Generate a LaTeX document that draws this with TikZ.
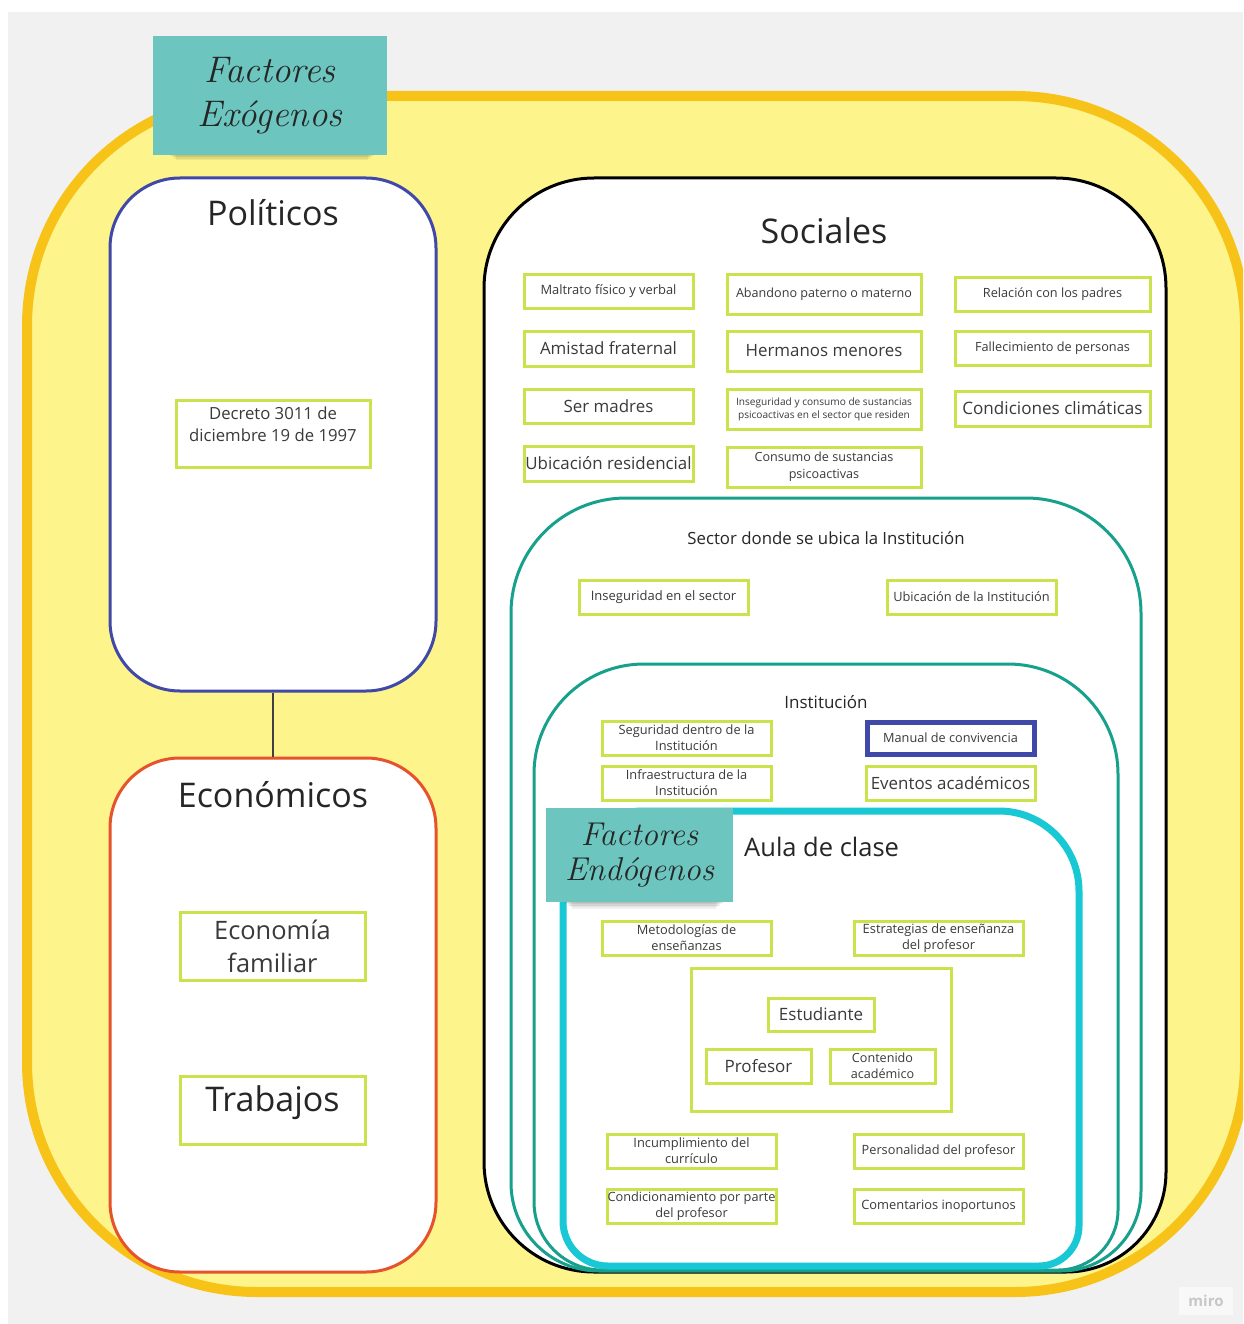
\documentclass[tikz,border=0pt]{standalone}
\usepackage{fontspec}
\newfontfamily\osans{Open Sans}
\usetikzlibrary{calc}
\definecolor{bggrey}{HTML}{F1F1F1}
\definecolor{yfill}{HTML}{FEF48C}
\definecolor{ystroke}{HTML}{F7C318}
\definecolor{lime}{HTML}{CAE24C}
\definecolor{polblue}{HTML}{4048A8}
\definecolor{ecored}{HTML}{E6522C}
\definecolor{tealc}{HTML}{17A08B}
\definecolor{cyanc}{HTML}{18C8D4}
\definecolor{notec}{HTML}{6CC6BF}
\definecolor{txt}{HTML}{262626}
\definecolor{ltxt}{HTML}{3A3A3A}
\newcommand\nestbox[8]{%
\draw[#1] ({#2+#6},#3) -- ({#4-#6},#3)
 .. controls ({#4-0.4477*#6},#3) and (#4,{#3+0.4477*#6}) .. (#4,{#3+#6})
 -- (#4,{#5-#8})
 .. controls (#4,{#5-0.4477*#8}) and ({#4-0.4477*#8},#5) .. ({#4-#8},#5)
 -- ({#2+#7},#5)
 .. controls ({#2+0.4477*#7},#5) and (#2,{#5-0.4477*#7}) .. (#2,{#5-#7})
 -- (#2,{#3+#6})
 .. controls (#2,{#3+0.4477*#6}) and ({#2+0.4477*#6},#3) .. ({#2+#6},#3) -- cycle;}
\newcommand\fs[2]{\fontsize{#1pt}{#2pt}\selectfont}
\begin{document}
\begin{tikzpicture}[x=1pt,y=-1pt,
  every node/.style={inner sep=0pt, text=txt},
  lbl/.style={draw=lime, line width=3pt, fill=white, align=center, text=ltxt},
  note/.style={fill=notec, draw=none},
  title/.style={font=\osans\fs{34}{40}, text=txt},
  bigbox/.style={fill=white, line width=3pt, rounded corners=70pt}]
\useasboundingbox (0,0) rectangle (1243,1324);
\clip (0,0) rectangle (1243,1324);
\fill[white] (0,0) rectangle (1243,1324);
\fill[bggrey] (8,12) rectangle (1243,1324);
% outer yellow
\draw[fill=yfill, draw=ystroke, line width=10pt, rounded corners=230pt] (27,96) rectangle (1245,1292);
% Exogenos note with shadow
\foreach \i in {1,...,7}{
  \fill[black, opacity=0.06] ({162+2*\i},146) rectangle ({382-2*\i},{150+1.5*\i});
}
\node[note, minimum width=234pt, minimum height=119pt, align=center,
      font=\rmfamily\itshape\fs{37}{44}] (exo) at (270,95.5) {Factores\\Exógenos};
% Politicos
\node[bigbox, draw=polblue, minimum width=326pt, minimum height=513pt] (pol) at (273,434.5) {};
\node[title] (poltitle) at (273,213) {Políticos};
\node[lbl, minimum width=194pt, minimum height=67pt] (dec) at (273,433.5) {};
\node[font=\osans\fs{16.7}{22}, align=center, text=ltxt] (dectxt) at ($(dec.center)+(0,-9.5)$) {Decreto 3011 de\\diciembre 19 de 1997};
% Economicos
\node[bigbox, draw=ecored, minimum width=326pt, minimum height=514pt] (eco) at (273,1015) {};
\node[title] (ecotitle) at (273,795) {Económicos};
\node[lbl, minimum width=185pt, minimum height=68pt, font=\osans\fs{25.4}{33}] (ecofam) at (272.5,946) {Economía\\familiar};
\node[lbl, minimum width=185pt, minimum height=68pt] (trab) at (272.5,1110) {};
\node[font=\osans\fs{34}{38}] (trabtxt) at ($(trab.center)+(0,-7)$) {Trabajos};
\draw[line width=1.3pt, draw=black!75] (pol.south) -- (eco.north);
% Sociales container
\nestbox{fill=white, draw=black, line width=3pt}{484}{178}{1166}{1272}{110}{110}{100}
\node[title] (soctitle) at (824,231) {Sociales};
\node[lbl, minimum width=169pt, minimum height=34pt, font=\osans\fs{12.9}{16}] (s11) at (608.5,291) {Maltrato físico y verbal};
\node[lbl, minimum width=194pt, minimum height=40pt, font=\osans\fs{12.6}{16}] (s12) at (824,294) {Abandono paterno o materno};
\node[lbl, minimum width=195pt, minimum height=34pt, font=\osans\fs{12.7}{16}] (s13) at (1052.5,294) {Relación con los padres};
\node[lbl, minimum width=169pt, minimum height=35pt, font=\osans\fs{16.9}{20}] (s21) at (608.5,348.5) {Amistad fraternal};
\node[lbl, minimum width=194pt, minimum height=40pt, font=\osans\fs{16.9}{20}] (s22) at (824,351) {Hermanos menores};
\node[lbl, minimum width=195pt, minimum height=34pt, font=\osans\fs{12.7}{16}] (s23) at (1052.5,348) {Fallecimiento de personas};
\node[lbl, minimum width=169pt, minimum height=34pt, font=\osans\fs{16.9}{20}] (s31) at (608.5,406) {Ser madres};
\node[lbl, minimum width=194pt, minimum height=40pt, font=\osans\fs{10.1}{13}] (s32) at (824,409) {Inseguridad y consumo de sustancias\\psicoactivas en el sector que residen};
\node[lbl, minimum width=195pt, minimum height=35pt, font=\osans\fs{17.1}{20}] (s33) at (1052.5,408.5) {Condiciones climáticas};
\node[lbl, minimum width=169pt, minimum height=35pt, font=\osans\fs{16.9}{20}] (s41) at (608.5,463.5) {Ubicación residencial};
\node[lbl, minimum width=194pt, minimum height=40pt, font=\osans\fs{12.6}{17}] (s42) at (824,467) {Consumo de sustancias\\psicoactivas};
% Sector container
\nestbox{fill=white, draw=tealc, line width=3pt}{511}{498}{1141}{1271}{115}{88}{80}
\node[font=\osans\fs{16.8}{20}] (sectitle) at (826,538) {Sector donde se ubica la Institución};
\node[lbl, minimum width=169pt, minimum height=34pt, font=\osans\fs{13}{16}] (sec1) at (663.5,597) {Inseguridad en el sector};
\node[lbl, minimum width=169pt, minimum height=34pt, font=\osans\fs{12.8}{16}] (sec2) at (971.5,597) {Ubicación de la Institución};
% Institucion container
\nestbox{fill=white, draw=tealc, line width=3pt}{534}{664}{1118}{1270}{110}{68}{60}
\node[font=\osans\fs{17}{20}] (insttitle) at (826,702) {Institución};
\node[lbl, minimum width=169pt, minimum height=34pt, font=\osans\fs{12.8}{16}] (i1) at (686.5,738) {Seguridad dentro de la\\Institución};
\node[lbl, minimum width=169pt, minimum height=34pt, font=\osans\fs{12.8}{16}] (i2) at (686.5,783) {Infraestructura de la\\Institución};
\node[lbl, draw=polblue, line width=5pt, minimum width=167pt, minimum height=32pt, font=\osans\fs{12.7}{16}] (i3) at (950.5,738) {Manual de convivencia};
\node[lbl, minimum width=169pt, minimum height=34pt, font=\osans\fs{16.9}{20}] (i4) at (950.5,783) {Eventos académicos};
% Aula container
\nestbox{fill=white, draw=cyanc, line width=7pt}{563}{811}{1079}{1266}{80}{45}{40}
\node[font=\osans\fs{25.5}{30}, anchor=west] (aulatitle) at (744,847) {Aula de clase};
% Endogenos note
\foreach \i in {1,...,7}{
  \fill[black, opacity=0.06] ({558+2*\i},894) rectangle ({730-2*\i},{898+1.5*\i});
}
\node[note, minimum width=187pt, minimum height=94pt, align=center,
      font=\rmfamily\itshape\fs{33}{35}] (endo) at (639.5,855) {Factores\\Endógenos};
\node[lbl, minimum width=169pt, minimum height=34pt, font=\osans\fs{12.8}{16}] (a1) at (686.5,938) {Metodologías de\\enseñanzas};
\node[lbl, minimum width=169pt, minimum height=34pt, font=\osans\fs{12.85}{16}] (a2) at (938.5,938) {Estrategias de enseñanza\\del profesor};
\node[lbl, minimum width=260pt, minimum height=143pt] (core) at (821,1039.5) {};
\node[lbl, minimum width=106pt, minimum height=33pt, font=\osans\fs{17}{20}] (est) at (821,1014.5) {Estudiante};
\node[lbl, minimum width=105pt, minimum height=34pt, font=\osans\fs{17}{20}] (prof) at (758.5,1066) {Profesor};
\node[lbl, minimum width=105pt, minimum height=34pt, font=\osans\fs{12.6}{16}] (cont) at (882.5,1066) {Contenido\\académico};
\node[lbl, minimum width=169pt, minimum height=34pt, font=\osans\fs{12.85}{16}] (a3) at (691.5,1151) {Incumplimiento del\\currículo};
\node[lbl, minimum width=169pt, minimum height=34pt, font=\osans\fs{12.75}{16}] (a4) at (938.5,1151) {Personalidad del profesor};
\node[lbl, minimum width=169pt, minimum height=34pt, font=\osans\fs{12.75}{16}] (a5) at (691.5,1206) {Condicionamiento por parte\\del profesor};
\node[lbl, minimum width=169pt, minimum height=34pt, font=\osans\fs{12.85}{16}] (a6) at (938.5,1206) {Comentarios inoportunos};
% watermark
\node[fill=white!50!bggrey, minimum width=54pt, minimum height=28pt, font=\osans\bfseries\fs{15}{18}, text=black!22] (miro) at (1206,1301) {miro};
\end{tikzpicture}
\end{document}
